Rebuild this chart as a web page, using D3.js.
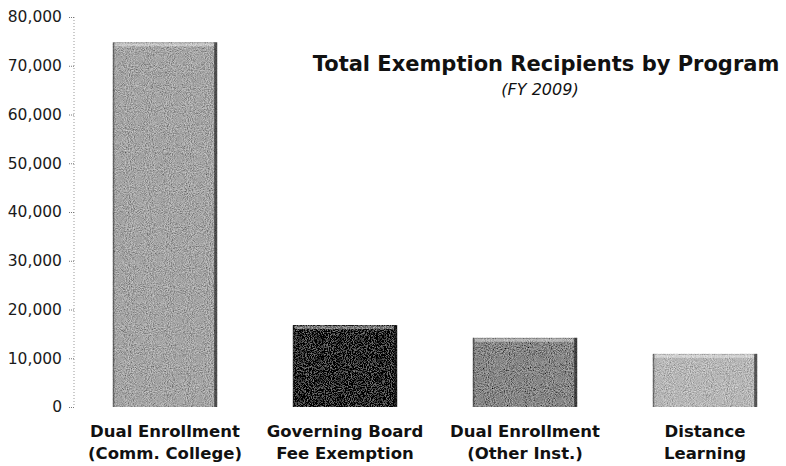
<!DOCTYPE html>
<html>
<head>
<meta charset="utf-8">
<script src="https://cdn.jsdelivr.net/npm/d3@7"></script>
<style>
  body { margin: 0; background: #fff; }
  svg { display: block; }
</style>
</head>
<body>
<svg id="chart" width="786" height="466"></svg>
<script>
// chart data
var categories = ["Dual Enrollment|(Comm. College)", "Governing Board|Fee Exemption", "Dual Enrollment|(Other Inst.)", "Distance|Learning"];
var values = [74800, 16800, 14200, 10900];
var barColors = ["#a4a4a4", "#262626", "#868686", "#b6b6b6"];
var yTicks = [0, 10000, 20000, 30000, 40000, 50000, 60000, 70000, 80000];
var title = "Total Exemption Recipients by Program";
var subtitle = "(FY 2009)";

var svg = d3.select("#chart");

var x = d3.scaleBand()
    .domain(categories)
    .range([75, 795])
    .paddingInner(0.42)
    .paddingOuter(0.21);

var y = d3.scaleLinear()
    .domain([0, 80000])
    .range([407, 17]);

// grainy texture like the scanned original (noise centred on the bar colour)
var defs = svg.append("defs");
var f = defs.append("filter").attr("id", "grain")
    .attr("x", 0).attr("y", 0).attr("width", 1).attr("height", 1);
f.append("feTurbulence").attr("type", "fractalNoise")
    .attr("baseFrequency", 0.95).attr("numOctaves", 2).attr("seed", 4).attr("result", "noise");
f.append("feColorMatrix").attr("in", "noise").attr("type", "matrix")
    .attr("values", "1 0 0 0 0  1 0 0 0 0  1 0 0 0 0  0 0 0 0 1")
    .attr("result", "gray");
f.append("feComposite").attr("in", "SourceGraphic").attr("in2", "gray")
    .attr("operator", "arithmetic")
    .attr("k1", 0).attr("k2", 1).attr("k3", 0.7).attr("k4", -0.35)
    .attr("result", "mix");
f.append("feComposite").attr("in", "mix").attr("in2", "SourceAlpha").attr("operator", "in");

// y axis (dotted)
var axis = d3.axisLeft(y)
    .tickValues(yTicks)
    .tickSize(5)
    .tickPadding(7)
    .tickFormat(d3.format(","));

var gAxis = svg.append("g")
    .attr("transform", "translate(74,0)")
    .call(axis);
gAxis.select(".domain")
    .attr("stroke", "#999")
    .attr("stroke-dasharray", "1,2")
    .attr("d", "M0," + y(80000) + "V" + y(0));
gAxis.selectAll(".tick line")
    .attr("stroke", "#777")
    .attr("stroke-dasharray", "1,1");
gAxis.selectAll(".tick text")
    .attr("fill", "#1a1a1a")
    .style("font-family", "'DejaVu Sans', Verdana, sans-serif")
    .style("font-size", "15.5px");

// bars
var bars = svg.append("g").selectAll("g.bar")
    .data(categories)
    .enter().append("g")
    .attr("class", "bar");

bars.append("rect")
    .attr("x", function (d) { return x(d); })
    .attr("y", function (d, i) { return y(values[i]); })
    .attr("width", x.bandwidth())
    .attr("height", function (d, i) { return y(0) - y(values[i]); })
    .attr("fill", function (d, i) { return barColors[i]; })
    .attr("filter", "url(#grain)");

// bevel: light top edge, dark right and left edges
bars.append("rect")
    .attr("x", function (d) { return x(d) + 2; })
    .attr("y", function (d, i) { return y(values[i]) + 1; })
    .attr("width", x.bandwidth() - 5)
    .attr("height", 3)
    .attr("fill", "#fff")
    .attr("opacity", 0.4);
bars.append("rect")
    .attr("x", function (d) { return x(d) + x.bandwidth() - 3; })
    .attr("y", function (d, i) { return y(values[i]); })
    .attr("width", 3)
    .attr("height", function (d, i) { return y(0) - y(values[i]); })
    .attr("fill", "#111")
    .attr("opacity", 0.6);
bars.append("rect")
    .attr("x", function (d) { return x(d); })
    .attr("y", function (d, i) { return y(values[i]); })
    .attr("width", 1.5)
    .attr("height", function (d, i) { return y(0) - y(values[i]); })
    .attr("fill", "#222")
    .attr("opacity", 0.5);

// category labels
var labels = svg.append("g").selectAll("text")
    .data(categories)
    .enter().append("text")
    .attr("x", function (d) { return x(d) + x.bandwidth() / 2; })
    .attr("y", 437)
    .attr("text-anchor", "middle")
    .style("font-family", "'DejaVu Sans', Tahoma, sans-serif")
    .style("font-weight", "bold")
    .style("font-size", "16.5px")
    .attr("fill", "#111");
labels.selectAll("tspan")
    .data(function (d) { return d.split("|"); })
    .enter().append("tspan")
    .attr("x", function () { return d3.select(this.parentNode).attr("x"); })
    .attr("dy", function (d, i) { return i ? 22 : 0; })
    .text(function (d) { return d; });

// title
svg.append("text")
    .attr("x", 546)
    .attr("y", 71)
    .attr("text-anchor", "middle")
    .style("font-family", "'DejaVu Sans', Tahoma, sans-serif")
    .style("font-weight", "bold")
    .style("font-size", "21px")
    .attr("fill", "#111")
    .text(title);

svg.append("text")
    .attr("x", 540)
    .attr("y", 95)
    .attr("text-anchor", "middle")
    .style("font-family", "'DejaVu Sans', Tahoma, sans-serif")
    .style("font-style", "italic")
    .style("font-size", "16px")
    .attr("fill", "#111")
    .text(subtitle);
</script>
</body>
</html>
